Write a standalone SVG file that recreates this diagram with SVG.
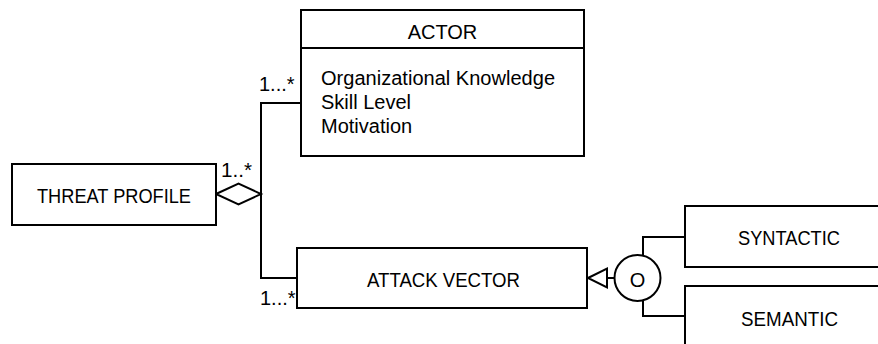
<svg xmlns="http://www.w3.org/2000/svg" width="878" height="344" viewBox="0 0 878 344">
  <style>
    .box { fill: #ffffff; stroke: #000000; stroke-width: 2; }
    .line { fill: none; stroke: #000000; stroke-width: 2; }
    .head { fill: #ffffff; stroke: #000000; stroke-width: 2; stroke-linejoin: miter; }
    .arial { font-family: "Liberation Sans", Arial, sans-serif; font-size: 20px; fill: #000000; }
    .label { font-family: "Liberation Sans", Arial, sans-serif; font-size: 20px; fill: #000000; }
    .mid { text-anchor: middle; }
  </style>

  <!-- connectors: aggregation and generalization lines -->
  <g id="connectors">
    <!-- aggregation from THREAT PROFILE to ACTOR and ATTACK VECTOR -->
    <polyline class="line" points="301,103 261,103 261,278 297,278"/>
    <polygon class="head" points="216,194 238.5,183.5 261,194 238.5,204.5"/>
    <text class="label" x="221" y="177" textLength="31" lengthAdjust="spacingAndGlyphs">1..*</text>
    <text class="arial" x="259" y="91">1...*</text>
    <text class="arial" x="260" y="305">1...*</text>

    <!-- generalization from subtypes to ATTACK VECTOR -->
    <line class="line" x1="607" y1="278" x2="615" y2="278"/>
    <polygon class="head" points="588,278 607,268.5 607,287.5"/>
    <polyline class="line" points="643,255.5 643,237 685,237"/>
    <polyline class="line" points="643,300.5 643,316 685,316"/>
  </g>

  <g id="threat-profile">
    <rect class="box" x="12" y="164" width="204" height="61"/>
    <text class="label" x="37" y="202.5" textLength="154" lengthAdjust="spacingAndGlyphs">THREAT PROFILE</text>
  </g>

  <g id="actor">
    <rect class="box" x="301" y="10" width="283" height="146"/>
    <line class="line" x1="301" y1="48" x2="584" y2="48"/>
    <text class="arial mid" x="442.5" y="39">ACTOR</text>
    <text class="arial" x="321" y="85" textLength="234">Organizational Knowledge</text>
    <text class="arial" x="321" y="109">Skill Level</text>
    <text class="arial" x="321" y="133">Motivation</text>
  </g>

  <g id="attack-vector">
    <rect class="box" x="297" y="248" width="290" height="60"/>
    <text class="label" x="367" y="286.5" textLength="153" lengthAdjust="spacingAndGlyphs">ATTACK VECTOR</text>
  </g>

  <g id="overlap">
    <circle class="box" cx="637.5" cy="278" r="23"/>
    <text class="label mid" x="637.5" y="287">O</text>
  </g>

  <g id="syntactic">
    <rect class="box" x="685" y="206" width="210" height="61"/>
    <text class="label" x="738" y="245" textLength="102" lengthAdjust="spacingAndGlyphs">SYNTACTIC</text>
  </g>

  <g id="semantic">
    <rect class="box" x="685" y="286" width="210" height="70"/>
    <text class="label" x="741" y="326" textLength="97" lengthAdjust="spacingAndGlyphs">SEMANTIC</text>
  </g>
</svg>
